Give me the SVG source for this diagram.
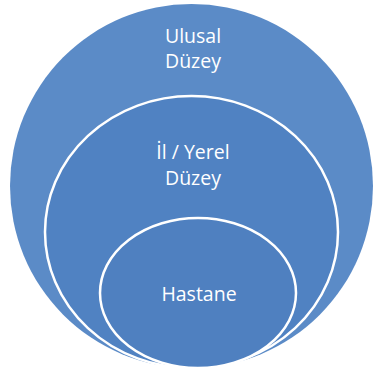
<svg xmlns="http://www.w3.org/2000/svg" width="374" height="374" viewBox="0 0 374 374">
<style>
.t{font-family:"Open Sans","Liberation Sans",sans-serif;font-size:19.5px;fill:#ffffff;text-anchor:middle}
.ring{stroke:#ffffff;stroke-width:2.5}
</style>
<rect width="374" height="374" fill="#ffffff"/>
<g id="ulusal">
<ellipse cx="191.5" cy="186" rx="181.5" ry="182" fill="#5b8bc7"/>
<text class="t" x="193" y="43">Ulusal</text>
<text class="t" x="193" y="68">Düzey</text>
</g>
<g id="il-yerel">
<ellipse class="ring" cx="191.5" cy="232" rx="146.5" ry="136" fill="#5082c2"/>
<text class="t" x="193" y="159">İl / Yerel</text>
<text class="t" x="193" y="185">Düzey</text>
</g>
<g id="hastane">
<ellipse class="ring" cx="198" cy="293" rx="98" ry="75" fill="#4f80c0"/>
<text class="t" x="199" y="301">Hastane</text>
</g>
<g id="connectors"/>
</svg>
